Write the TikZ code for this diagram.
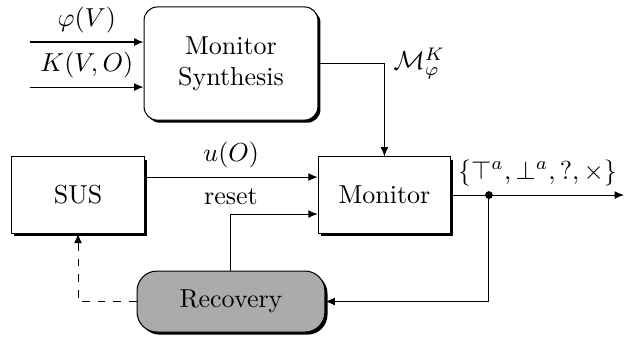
\documentclass[tikz,border=0pt]{standalone}
\usetikzlibrary{shadows,arrows.meta}
\begin{document}
\begin{tikzpicture}[>={Latex[length=3.6pt,width=3pt]},
        block/.style = {shape=rectangle, draw, fill=white, align=center,
            minimum width=1.79cm, minimum height=1.03cm,
            drop shadow={shadow xshift=1pt, shadow yshift=-1pt, opacity=1, fill=black}},
        rblock/.style = {block, rounded corners=0.18cm}]
    \useasboundingbox (0,0) rectangle (8.437,4.543);
    \node[rblock, minimum width=2.35cm, minimum height=1.53cm] (synth) at (3.123,3.684) {Monitor\\Synthesis};
    \node[block] (sus) at (1.055,1.906) {SUS};
    \node[block] (mon) at (5.198,1.906) {Monitor};
    \node[rblock, rounded corners=0.27cm, fill=black!33,
        minimum width=2.54cm, minimum height=0.825cm] (rec) at (3.123,0.466) {Recovery};
    \coordinate (phi) at (0.406,3.975);
    \coordinate (know) at (0.406,3.366);
    \coordinate (split) at (6.611,1.906);
    \coordinate (out) at (8.437,1.906);
    % inputs of the synthesis
    \draw[->] (phi) -- node[above] {$\varphi(V)$} (phi -| synth.west);
    \draw[->] (know) -- node[above] {$K(V,O)$} (know -| synth.west);
    \draw[->] (synth.east) -| node[pos=0.5, right] {$\mathcal{M}_{\varphi}^{K}$} (mon.north);
    % monitor loop
    \draw[->] ([yshift=0.243cm]sus.east) -- node[above] {$u(O)$} ([yshift=0.243cm]mon.west);
    \draw[->] (rec.north) |- node[pos=0.5, above] {reset} ([yshift=-0.257cm]mon.west);
    \draw[->] (mon.east) -- node[above] {$\{\top^a,\bot^a,?,\times\}$} (out);
    \fill (split) circle (1.5pt);
    \draw[->] (split) |- (rec.east);
    \draw[->, dashed] (rec.west) -| (sus.south);
\end{tikzpicture}
\end{document}
